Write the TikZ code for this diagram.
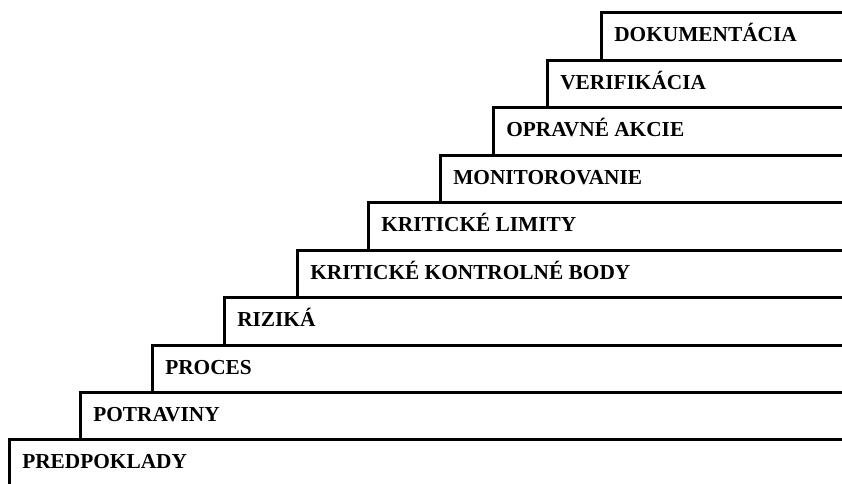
\documentclass[tikz,border=0pt]{standalone}
\usepackage{fontspec}
\setmainfont{Liberation Serif}
\begin{document}
\begin{tikzpicture}[x=0.75pt, y=0.75pt]
% staircase of HACCP steps, units are pixels of the drawing
\def\stairright{842}
\providecommand{\stairLineWidth}{2.25pt}
\tikzset{
  stairline/.style={draw=black, line width=\stairLineWidth, line join=miter},
  stairlabel/.style={anchor=base west, inner sep=0pt, font=\bfseries\fontsize{16}{19}\selectfont}
}
\useasboundingbox (0,0) rectangle (842,484);
% Step outlines (vertical riser, then tread to the right edge)
\begin{scope}[stairline]
  \draw (601,423) -- (601,471) -- (\stairright,471);
  \draw (547,376) -- (547,423) -- (\stairright,423);
  \draw (493,328) -- (493,376) -- (\stairright,376);
  \draw (440,281) -- (440,328) -- (\stairright,328);
  \draw (368,233) -- (368,281) -- (\stairright,281);
  \draw (297,186) -- (297,233) -- (\stairright,233);
  \draw (224,138) -- (224,186) -- (\stairright,186);
  \draw (152,91) -- (152,138) -- (\stairright,138);
  \draw (80,44) -- (80,91) -- (\stairright,91);
  \draw (9,-4) -- (9,44) -- (\stairright,44);
\end{scope}
% Step labels
\node[stairlabel] (dokumentacia) at (614,442) {DOKUMENTÁCIA};
\node[stairlabel] (verifikacia) at (560,394) {VERIFIKÁCIA};
\node[stairlabel] (opravne) at (506,347) {OPRAVNÉ AKCIE};
\node[stairlabel] (monitorovanie) at (453,299) {MONITOROVANIE};
\node[stairlabel] (limity) at (381,252) {KRITICKÉ LIMITY};
\node[stairlabel] (kkb) at (310,204) {KRITICKÉ KONTROLNÉ BODY};
\node[stairlabel] (rizika) at (237,157) {RIZIKÁ};
\node[stairlabel] (proces) at (165,109) {PROCES};
\node[stairlabel] (potraviny) at (93,62) {POTRAVINY};
\node[stairlabel] (predpoklady) at (22,15) {PREDPOKLADY};
\end{tikzpicture}
\end{document}
